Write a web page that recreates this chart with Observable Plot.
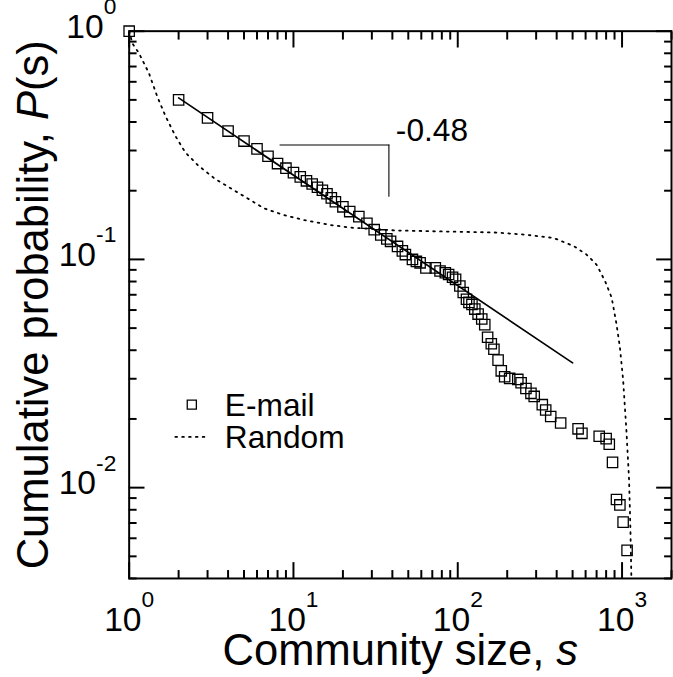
<!DOCTYPE html>
<html><head><meta charset="utf-8">
<script src="https://cdn.jsdelivr.net/npm/d3@7"></script>
<script src="https://cdn.jsdelivr.net/npm/@observablehq/plot@0.6"></script>
<style>
html,body{margin:0;padding:0;background:#fff;}
#chart{width:673px;height:677px;overflow:hidden;position:relative;background:#fff;}
</style></head><body><div id="chart"></div>
<script>
// E-mail community size distribution (cumulative)
const emailSize = [1,2,3,4,5,6,7,8,9,10,11,12,13,14,15,16,17,18,20,22,25,28,31,34,37,39,43,46,48,53,56,59,64,73,78,84,88,93,97,103,108,113,117,122,127,133,140,146,152,160,166,176,184,193,207,232,243,260,279,292,327,343,368,423,540,570,726,800,836,875,925,970,1015,1073];
const emailP = [1,0.50,0.417,0.365,0.330,0.305,0.283,0.263,0.251,0.240,0.230,0.221,0.214,0.207,0.201,0.194,0.186,0.179,0.170,0.162,0.154,0.144,0.135,0.128,0.123,0.120,0.114,0.109,0.105,0.100,0.098,0.0966,0.0918,0.0918,0.089,0.0874,0.0859,0.0835,0.0818,0.0765,0.0716,0.0669,0.0648,0.0635,0.0606,0.0576,0.0548,0.0518,0.0456,0.0427,0.0404,0.0362,0.0325,0.0306,0.0301,0.0298,0.0288,0.0272,0.0259,0.0251,0.0231,0.0219,0.0205,0.0192,0.0181,0.0173,0.0168,0.0164,0.0155,0.0129,0.00887,0.0084,0.00706,0.00531];
// Random network curve
const randomSize = [1,1.047,1.148,1.319,1.48,1.663,1.909,2.193,2.636,3.32,4.18,5.27,6.64,8.76,11.55,16.7,22,42,84,168,265,385,508,608,699,788,864,925,970,1015,1062,1103,1124,1140,1150];
const randomP = [1,0.884,0.80,0.655,0.519,0.425,0.348,0.2946,0.2577,0.2258,0.2042,0.1848,0.1672,0.1564,0.1488,0.1416,0.1379,0.1339,0.1325,0.1312,0.1281,0.124,0.1144,0.105,0.0949,0.0804,0.0681,0.0521,0.0413,0.0297,0.018,0.0109,0.00664,0.00399,0.003];
// power-law fit line, slope -0.48
const fitSize = [2, 500];
const fitP = [0.51, 0.0352];
// slope bracket
const bracketTopSize = [8.3, 38.1];
const bracketTopP = [0.317, 0.317];
const bracketSideSize = [38.1, 38.1];
const bracketSideP = [0.317, 0.189];
const slopeLabel = ["-0.48"];
const slopeLabelSize = [42];
const slopeLabelP = [0.331];
// legend
const legendLabels = ["E-mail", "Random"];
// axes
const xMajor = [1, 10, 100, 1000];
const xExp = ["0", "1", "2", "3"];
const yMajor = [1, 0.1, 0.01];
const yExp = ["0", "-1", "-2"];
const xTitle = "Community size, s";
const yTitle = "Cumulative probability, P(s)";

const email = emailSize.map((s, i) => ({s, p: emailP[i]}));
const random = randomSize.map((s, i) => ({s, p: randomP[i]}));
const fit = fitSize.map((s, i) => ({s, p: fitP[i]}));
const bTop = bracketTopSize.map((s, i) => ({s, p: bracketTopP[i]}));
const bSide = bracketSideSize.map((s, i) => ({s, p: bracketSideP[i]}));
const slope = slopeLabel.map((t, i) => ({t, s: slopeLabelSize[i], p: slopeLabelP[i]}));

const xMinor = [];
for (const d of [1, 10, 100, 1000]) for (let k = 2; k <= 9; k++) if (d * k <= 2000) xMinor.push(d * k);
const yMinor = [];
for (const d of [0.001, 0.01, 0.1]) for (let k = 2; k <= 9; k++) if (d * k >= 0.004) yMinor.push(d * k);

const lineShape = {draw(context, l) { context.moveTo(0, 0); context.lineTo(0, -l); }};
const FONT = "'Liberation Sans', Arial, Helvetica, sans-serif";

const fmtX = d => "10^" + xExp[xMajor.indexOf(d)];
const fmtY = d => "10^" + yExp[yMajor.indexOf(d)];
const tickAxis = (fn, anchor, ticks, size) => fn({anchor, ticks, tickSize: size, tickFormat: () => "", strokeWidth: 2, label: null});

const plot = Plot.plot({
  width: 680, height: 677,
  marginLeft: 130, marginRight: 2, marginTop: 31, marginBottom: 93,
  style: {fontFamily: FONT, background: "white", color: "black", overflow: "visible"},
  x: {type: "log", domain: [1, 2000]},
  y: {type: "log", domain: [0.004, 1]},
  marks: [
    Plot.line(random, {x: "s", y: "p", stroke: "black", strokeWidth: 1.8, strokeDasharray: "1.7 5.2", clip: true}),
    Plot.line(fit, {x: "s", y: "p", stroke: "black", strokeWidth: 1.7}),
    Plot.line(bTop, {x: "s", y: "p", stroke: "#555", strokeWidth: 1.6}),
    Plot.line(bSide, {x: "s", y: "p", stroke: "black", strokeWidth: 1.1}),
    Plot.text(slope, {x: "s", y: "p", text: "t", textAnchor: "start", lineAnchor: "bottom", fontSize: 32, fill: "black"}),
    Plot.dot(email, {x: "s", y: "p", symbol: "square", r: 5.9, stroke: "black", fill: "none", strokeWidth: 1.3}),
    // legend
    Plot.dot([legendLabels[0]], {frameAnchor: "top-left", dx: 63.3, dy: 377.3, symbol: "square", r: 5.2, stroke: "black", fill: "none", strokeWidth: 1.3}),
    Plot.vector([legendLabels[1]], {frameAnchor: "top-left", dx: 46.7, dy: 410, rotate: 90, length: 31.5, anchor: "start", shape: lineShape, stroke: "black", strokeWidth: 1.8, strokeDasharray: "1.7 5.2"}),
    Plot.text([legendLabels[0]], {frameAnchor: "top-left", dx: 96.7, dy: 389, text: d => d, textAnchor: "start", lineAnchor: "bottom", fontSize: 32}),
    Plot.text([legendLabels[1]], {frameAnchor: "top-left", dx: 96.7, dy: 421, text: d => d, textAnchor: "start", lineAnchor: "bottom", fontSize: 32}),
    // frame
    Plot.frame({stroke: "black", strokeWidth: 2}),
    // inward ticks
    tickAxis(Plot.axisX, "bottom", xMajor, -16),
    tickAxis(Plot.axisX, "bottom", xMinor, -8),
    tickAxis(Plot.axisX, "top", xMajor, -16),
    tickAxis(Plot.axisX, "top", xMinor, -8),
    tickAxis(Plot.axisY, "left", yMajor, -16),
    tickAxis(Plot.axisY, "left", yMinor, -8),
    tickAxis(Plot.axisY, "right", yMajor, -16),
    tickAxis(Plot.axisY, "right", yMinor, -8),
    // tick labels
    Plot.axisX({anchor: "bottom", ticks: xMajor, tickSize: 0, tickPadding: 29, tickFormat: fmtX, fontSize: 34, label: null}),
    Plot.axisY({anchor: "left", ticks: yMajor, tickSize: 0, tickPadding: 13, tickFormat: fmtY, fontSize: 34, dy: -4, label: null}),
    // axis titles
    Plot.text([xTitle], {frameAnchor: "bottom", dy: 87, text: d => d, textAnchor: "middle", lineAnchor: "bottom", fontSize: 44}),
    Plot.text([yTitle], {frameAnchor: "left", dx: -82, rotate: -90, text: d => d, textAnchor: "middle", lineAnchor: "bottom", fontSize: 44})
  ]
});

document.getElementById("chart").append(plot);

d3.select(plot).selectAll("text").each(function () {
  const el = d3.select(this);
  const t = this.textContent;
  const m = /^10\^(-?\d+)$/.exec(t);
  if (m) {
    el.text("10");
    el.append("tspan").attr("dy", -24).attr("font-size", 23).text(m[1]);
  } else if (t === xTitle) {
    el.text("Community size, ");
    el.append("tspan").attr("font-style", "italic").text("s");
  } else if (t === yTitle) {
    el.text("Cumulative probability, ");
    el.append("tspan").attr("font-style", "italic").text("P");
    el.append("tspan").text("(s)");
  }
});
</script>
</body></html>
